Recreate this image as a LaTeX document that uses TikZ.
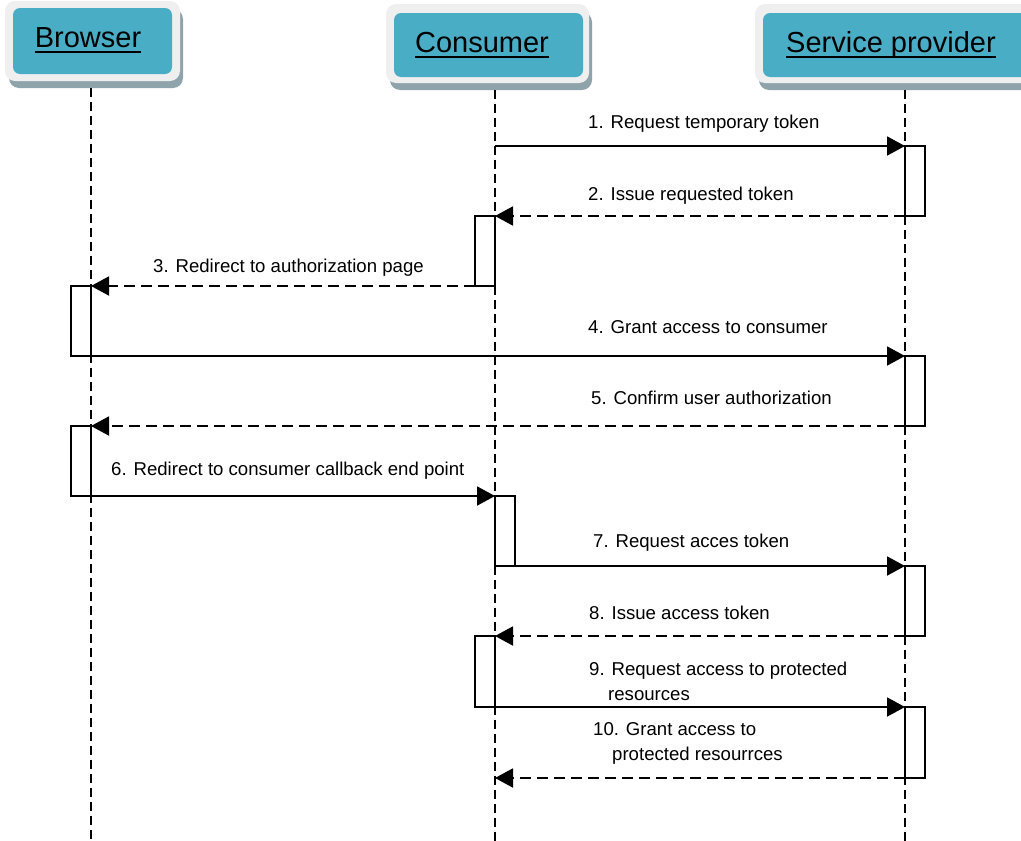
\documentclass[tikz,border=0pt]{standalone}
\usepackage{fontspec}
\setmainfont{Liberation Sans}
\usetikzlibrary{arrows.meta}
\definecolor{headteal}{HTML}{4AADC6}
\definecolor{headlight}{HTML}{EFEFEF}
\definecolor{headshadow}{HTML}{8FA3AB}
\tikzset{
  headshadowbox/.style={fill=headshadow, draw=none, rounded corners=10pt},
  headlightbox/.style={fill=headlight, draw=none, rounded corners=10pt},
  headtealbox/.style={fill=headteal, draw=none, rounded corners=7pt},
  headtext/.style={inner sep=0pt, anchor=base, font=\fontsize{29}{34}\selectfont},
  lifeline/.style={line width=1.5pt, dash pattern=on 9pt off 5pt},
  actbox/.style={draw, line width=1.5pt, fill=white, minimum width=20pt, inner sep=0pt, outer sep=0pt},
  callmsg/.style={line width=1.9pt, -{Triangle[length=18pt,width=19pt]}},
  replymsg/.style={line width=1.9pt, dash pattern=on 11pt off 6pt, -{Triangle[length=18pt,width=19pt]}},
  msglabel/.style={inner sep=0pt, anchor=base west, font=\fontsize{18.6}{22}\selectfont}
}
\begin{document}
\begin{tikzpicture}[x=1pt, y=-1pt]
\useasboundingbox (0,0) rectangle (1021,841);
\clip (0,0) rectangle (1021,841);

% participant headers
\fill[headshadowbox] (9,9) rectangle (183,88);
\fill[headlightbox] (5,1) rectangle (180,81);
\fill[headtealbox] (13,8) rectangle (172,74);
\node[headtext] (hbrowser) at (88,47) {Browser};
\draw[line width=2pt] ([yshift=-5pt]hbrowser.base west) -- ([yshift=-5pt]hbrowser.base east);

\fill[headshadowbox] (390,12) rectangle (592,90);
\fill[headlightbox] (386,4) rectangle (589,83);
\fill[headtealbox] (394,13) rectangle (583,77);
\node[headtext] (hconsumer) at (482,52) {Consumer};
\draw[line width=2pt] ([yshift=-5pt]hconsumer.base west) -- ([yshift=-5pt]hconsumer.base east);

\fill[headshadowbox] (759,12) rectangle (1040,90);
\fill[headlightbox] (755,4) rectangle (1036,83);
\fill[headtealbox] (763,13) rectangle (1030,77);
\node[headtext] (hprovider) at (891,52) {Service provider};
\draw[line width=2pt] ([yshift=-5pt]hprovider.base west) -- ([yshift=-5pt]hprovider.base east);

% lifelines
\coordinate (lbtop) at (91,88);   \coordinate (lbbot) at (91,841);
\coordinate (lctop) at (495,90);  \coordinate (lcbot) at (495,841);
\coordinate (lptop) at (905,90);  \coordinate (lpbot) at (905,841);
\draw[lifeline] (lbtop) -- (lbbot);
\draw[lifeline] (lctop) -- (lcbot);
\draw[lifeline] (lptop) -- (lpbot);

% activation bars
\node[actbox, minimum height=70pt] (a1) at (915,181) {};
\node[actbox, minimum height=70pt] (a2) at (485,251) {};
\node[actbox, minimum height=70pt] (a3) at (81,321) {};
\node[actbox, minimum height=70pt] (a4) at (915,391) {};
\node[actbox, minimum height=70pt] (a5) at (81,461) {};
\node[actbox, minimum height=70pt] (a6) at (505,531) {};
\node[actbox, minimum height=70pt] (a7) at (915,601) {};
\node[actbox, minimum height=71pt] (a8) at (485,671.5) {};
\node[actbox, minimum height=71pt] (a9) at (915,742.5) {};

% messages
\coordinate (m1start) at (495,146);
\coordinate (m10end) at (495,778);
\draw[callmsg] (m1start) -- (a1.north west);
\draw[replymsg] (a1.south west) -- (a2.north east);
\draw[replymsg] (a2.south west) -- (a3.north east);
\draw[callmsg] (a3.south east) -- (a4.north west);
\draw[replymsg] (a4.south west) -- (a5.north east);
\draw[callmsg] (a5.south east) -- (a6.north west);
\draw[callmsg] (a6.south west) -- (a7.north west);
\draw[replymsg] (a7.south west) -- (a8.north east);
\draw[callmsg] (a8.south east) -- (a9.north west);
\draw[replymsg] (a9.south west) -- (m10end);

% message labels
\node[msglabel] (t1) at (588,128) {1. Request temporary token};
\node[msglabel] (t2) at (588,200) {2. Issue requested token};
\node[msglabel] (t3) at (153,272) {3. Redirect to authorization page};
\node[msglabel] (t4) at (588,333) {4. Grant access to consumer};
\node[msglabel] (t5) at (591,404) {5. Confirm user authorization};
\node[msglabel] (t6) at (111,475) {6. Redirect to consumer callback end point};
\node[msglabel] (t7) at (593,547) {7. Request acces token};
\node[msglabel] (t8) at (589,619) {8. Issue access token};
\node[msglabel] (t9a) at (589,675) {9. Request access to protected};
\node[msglabel] (t9b) at (608,700) {resources};
\node[msglabel] (t10a) at (593,735) {10. Grant access to};
\node[msglabel] (t10b) at (612,760) {protected resourrces};
\end{tikzpicture}
\end{document}
